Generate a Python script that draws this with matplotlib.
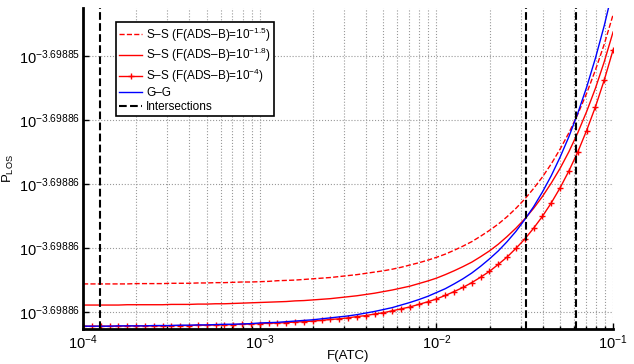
import matplotlib
matplotlib.use('Agg')
import matplotlib.pyplot as plt
from matplotlib.ticker import NullFormatter

plt.rcParams['font.family'] = 'Liberation Sans'
plt.rcParams['mathtext.fontset'] = 'custom'
plt.rcParams['mathtext.rm'] = 'Liberation Sans'
plt.rcParams['mathtext.it'] = 'Liberation Sans:italic'

# x axis = F(ATC), y axis = log10 of P_LOS
f_atc = [1.000e-4, 1.122e-4, 1.259e-4, 1.413e-4, 1.585e-4, 1.778e-4, 1.995e-4, 2.239e-4, 2.512e-4, 2.818e-4,
         3.162e-4, 3.548e-4, 3.981e-4, 4.467e-4, 5.012e-4, 5.623e-4, 6.310e-4, 7.079e-4, 7.943e-4, 8.913e-4,
         1.000e-3, 1.122e-3, 1.259e-3, 1.413e-3, 1.585e-3, 1.778e-3, 1.995e-3, 2.239e-3, 2.512e-3, 2.818e-3,
         3.162e-3, 3.548e-3, 3.981e-3, 4.467e-3, 5.012e-3, 5.623e-3, 6.310e-3, 7.079e-3, 7.943e-3, 8.913e-3,
         1.000e-2, 1.122e-2, 1.259e-2, 1.413e-2, 1.585e-2, 1.778e-2, 1.995e-2, 2.239e-2, 2.512e-2, 2.818e-2,
         3.162e-2, 3.548e-2, 3.981e-2, 4.467e-2, 5.012e-2, 5.623e-2, 6.310e-2, 7.079e-2, 7.943e-2, 8.913e-2,
         1.000e-1]

ss_15 = [-3.69886112, -3.69886112, -3.69886112, -3.69886112, -3.69886112, -3.69886112, -3.69886111, -3.69886111,
         -3.69886111, -3.69886111, -3.69886110, -3.69886110, -3.69886110, -3.69886109, -3.69886109, -3.69886108,
         -3.69886108, -3.69886107, -3.69886106, -3.69886106,
         -3.69886105, -3.69886104, -3.69886102, -3.69886101, -3.69886100, -3.69886098, -3.69886096, -3.69886094,
         -3.69886092, -3.69886089, -3.69886086, -3.69886083, -3.69886079, -3.69886075, -3.69886071, -3.69886066,
         -3.69886060, -3.69886053, -3.69886046, -3.69886038,
         -3.69886029, -3.69886019, -3.69886007, -3.69885994, -3.69885980, -3.69885963, -3.69885945, -3.69885925,
         -3.69885902, -3.69885876, -3.69885847, -3.69885814, -3.69885778, -3.69885737, -3.69885691, -3.69885640,
         -3.69885582, -3.69885517, -3.69885444, -3.69885363,
         -3.69885271]

ss_18 = [-3.69886178, -3.69886178, -3.69886178, -3.69886178, -3.69886178, -3.69886177, -3.69886177, -3.69886177,
         -3.69886177, -3.69886177, -3.69886176, -3.69886176, -3.69886176, -3.69886175, -3.69886175, -3.69886174,
         -3.69886174, -3.69886173, -3.69886172, -3.69886171,
         -3.69886170, -3.69886169, -3.69886168, -3.69886167, -3.69886165, -3.69886164, -3.69886162, -3.69886160,
         -3.69886158, -3.69886155, -3.69886152, -3.69886149, -3.69886145, -3.69886141, -3.69886136, -3.69886131,
         -3.69886125, -3.69886119, -3.69886111, -3.69886103,
         -3.69886094, -3.69886083, -3.69886071, -3.69886058, -3.69886044, -3.69886027, -3.69886009, -3.69885988,
         -3.69885964, -3.69885938, -3.69885909, -3.69885876, -3.69885839, -3.69885797, -3.69885751, -3.69885699,
         -3.69885640, -3.69885574, -3.69885501, -3.69885418,
         -3.69885325]

ss_4 = [-3.69886244, -3.69886244, -3.69886244, -3.69886244, -3.69886244, -3.69886243, -3.69886243, -3.69886243,
        -3.69886243, -3.69886243, -3.69886242, -3.69886242, -3.69886242, -3.69886241, -3.69886241, -3.69886240,
        -3.69886240, -3.69886239, -3.69886238, -3.69886237,
        -3.69886236, -3.69886235, -3.69886234, -3.69886233, -3.69886231, -3.69886230, -3.69886228, -3.69886226,
        -3.69886223, -3.69886221, -3.69886218, -3.69886214, -3.69886211, -3.69886206, -3.69886202, -3.69886196,
        -3.69886190, -3.69886184, -3.69886176, -3.69886168,
        -3.69886159, -3.69886148, -3.69886136, -3.69886123, -3.69886108, -3.69886091, -3.69886073, -3.69886051,
        -3.69886028, -3.69886001, -3.69885972, -3.69885938, -3.69885901, -3.69885859, -3.69885812, -3.69885759,
        -3.69885700, -3.69885633, -3.69885559, -3.69885475,
        -3.69885381]

gg = [-3.69886244, -3.69886244, -3.69886244, -3.69886244, -3.69886243, -3.69886243, -3.69886243, -3.69886243,
      -3.69886242, -3.69886242, -3.69886242, -3.69886241, -3.69886241, -3.69886240, -3.69886240, -3.69886239,
      -3.69886238, -3.69886238, -3.69886237, -3.69886236,
      -3.69886234, -3.69886233, -3.69886232, -3.69886230, -3.69886228, -3.69886226, -3.69886224, -3.69886221,
      -3.69886218, -3.69886215, -3.69886212, -3.69886208, -3.69886203, -3.69886198, -3.69886192, -3.69886186,
      -3.69886178, -3.69886170, -3.69886161, -3.69886151,
      -3.69886139, -3.69886127, -3.69886112, -3.69886096, -3.69886078, -3.69886057, -3.69886034, -3.69886009,
      -3.69885980, -3.69885948, -3.69885911, -3.69885871, -3.69885825, -3.69885774, -3.69885716, -3.69885652,
      -3.69885579, -3.69885498, -3.69885407, -3.69885305,
      -3.69885190]

intersections = [1.247e-4, 3.21e-2, 6.17e-2]

y_tick_vals = [-3.698862, -3.698860, -3.698858, -3.698856, -3.698854]
y_tick_labels = ['$10^{-3.69886}$', '$10^{-3.69886}$', '$10^{-3.69886}$', '$10^{-3.69886}$', '$10^{-3.69885}$']
x_tick_vals = [1e-4, 1e-3, 1e-2, 1e-1]
x_tick_labels = ['$10^{-4}$', '$10^{-3}$', '$10^{-2}$', '$10^{-1}$']

fig = plt.figure(figsize=(6.34, 3.64), dpi=100)
ax = fig.add_axes([0.131, 0.096, 0.836, 0.882])

ax.plot(f_atc, ss_15, 'r--', lw=1, label='S\u2013S (F(ADS\u2013B)=$10^{-1.5}$)')
ax.plot(f_atc, ss_18, 'r-', lw=1, label='S\u2013S (F(ADS\u2013B)=$10^{-1.8}$)')
ax.plot(f_atc, ss_4, 'r-+', lw=1, ms=5, mew=1, label='S\u2013S (F(ADS\u2013B)=$10^{-4}$)')
ax.plot(f_atc, gg, 'b-', lw=1, label='G\u2013G')
for i in range(len(intersections)):
    if i == 0:
        ax.axvline(intersections[i], color='k', ls='--', lw=1.5, label='Intersections')
    else:
        ax.axvline(intersections[i], color='k', ls='--', lw=1.5)

ax.set_xscale('log')
ax.set_xlim(1e-4, 1e-1)
ax.set_ylim(-3.69886253, -3.6988525)
ax.set_xticks(x_tick_vals, x_tick_labels)
ax.set_yticks(y_tick_vals, y_tick_labels)
ax.xaxis.set_minor_formatter(NullFormatter())
ax.tick_params(axis='both', which='both', direction='in', labelsize=10.5, width=1)
ax.tick_params(axis='both', which='major', length=4)
ax.tick_params(axis='x', which='minor', length=2.5)
ax.tick_params(axis='x', pad=3)
ax.tick_params(axis='y', pad=2)

ax.grid(True, which='major', color='0.6', ls=':', lw=0.8)
ax.grid(True, which='minor', axis='x', color='0.6', ls=':', lw=0.8)

ax.spines['top'].set_visible(False)
ax.spines['right'].set_visible(False)
ax.spines['left'].set_linewidth(2)
ax.spines['bottom'].set_linewidth(2)

ax.set_xlabel('F(ATC)', fontsize=9.5, labelpad=-1)
ax.set_ylabel('P$_{\\mathrm{LOS}}$', fontsize=9.5, labelpad=2)

leg = ax.legend(loc='upper left', bbox_to_anchor=(0.062, 0.955), fontsize=8.5, frameon=True,
                fancybox=False, handlelength=2.0, handletextpad=0.3, borderpad=0.25,
                labelspacing=0.2, borderaxespad=0)
leg.get_frame().set_edgecolor('k')
leg.get_frame().set_linewidth(1.2)
leg.get_frame().set_alpha(1)

plt.savefig('out.png', dpi=100)
